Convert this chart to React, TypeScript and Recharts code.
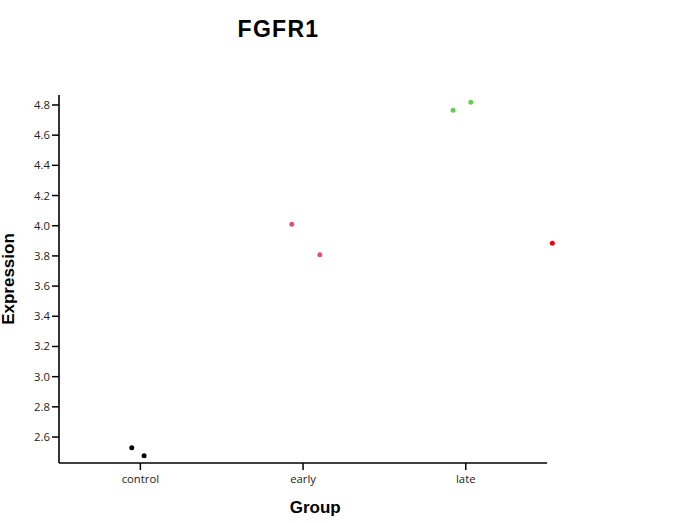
import { ScatterChart, Scatter, XAxis, YAxis, Label, ReferenceLine } from "recharts";

const groups = ["control", "early", "late"];
const yTicks = [2.6, 2.8, 3.0, 3.2, 3.4, 3.6, 3.8, 4.0, 4.2, 4.4, 4.6, 4.8];

// jittered group position + expression value
const controlX = [0.947, 1.023];
const controlY = [2.529, 2.476];
const earlyX = [1.931, 2.103];
const earlyY = [4.01, 3.807];
const lateX = [2.922, 3.031];
const lateY = [4.765, 4.818];
const outlierX = [3.532];
const outlierY = [3.884];

const toPoints = (xs: number[], ys: number[]) => xs.map((x, i) => ({ x, y: ys[i] }));

const Y_MIN = 2.428;
const Y_MAX = 4.866;

const dot = (color: string) => (props: any) =>
  <circle cx={props.cx} cy={props.cy} r={2.5} fill={color} />;

const tickStyle = { fill: "#222", fontSize: 11.3, fontFamily: "Open Sans" };

export default function App() {
  return (
    <div style={{ position: "absolute", left: 0, top: 0, width: 688, height: 523, background: "#fff" }}>
      <div
        style={{
          position: "absolute",
          left: 0,
          width: 557,
          top: 16,
          textAlign: "center",
          fontFamily: "Liberation Sans",
          fontWeight: "bold",
          fontSize: 23,
          letterSpacing: 1.3,
        }}
      >
        FGFR1
      </div>
      <ScatterChart width={688} height={523} margin={{ top: 95, right: 124.6, bottom: 0, left: 0 }}>
        <XAxis
          type="number"
          dataKey="x"
          domain={[0.5, 3.6]}
          ticks={[1, 2, 3]}
          tickFormatter={(v: number) => groups[v - 1]}
          axisLine={false}
          tickLine={{ stroke: "#000", strokeWidth: 1.5 }}
          tickSize={7}
          tickMargin={5}
          tick={tickStyle}
          height={60}
        >
          <Label
            value="Group"
            position="insideBottom"
            offset={10}
            dx={4}
            style={{ fontFamily: "Liberation Sans", fontWeight: "bold", fontSize: 17, fill: "#000" }}
          />
        </XAxis>
        <YAxis
          type="number"
          dataKey="y"
          domain={[Y_MIN, Y_MAX]}
          ticks={yTicks}
          tickFormatter={(v: number) => v.toFixed(1)}
          axisLine={{ stroke: "#000", strokeWidth: 1.6 }}
          tickLine={{ stroke: "#000", strokeWidth: 1.5 }}
          tickSize={7}
          tick={tickStyle}
          width={59}
        >
          <Label
            value="Expression"
            angle={-90}
            position="insideLeft"
            offset={0}
            dx={8}
            style={{ textAnchor: "middle", fontFamily: "Liberation Sans", fontWeight: "bold", fontSize: 17, fill: "#000" }}
          />
        </YAxis>
        <ReferenceLine
          segment={[{ x: 0.5, y: Y_MIN }, { x: 3.5, y: Y_MIN }]}
          stroke="#000"
          strokeWidth={1.6}
        />
        <Scatter data={toPoints(controlX, controlY)} shape={dot("#000000")} isAnimationActive={false} />
        <Scatter data={toPoints(earlyX, earlyY)} shape={dot("#DF536B")} isAnimationActive={false} />
        <Scatter data={toPoints(lateX, lateY)} shape={dot("#61D04F")} isAnimationActive={false} />
        <Scatter data={toPoints(outlierX, outlierY)} shape={dot("#F20000")} isAnimationActive={false} />
      </ScatterChart>
    </div>
  );
}
